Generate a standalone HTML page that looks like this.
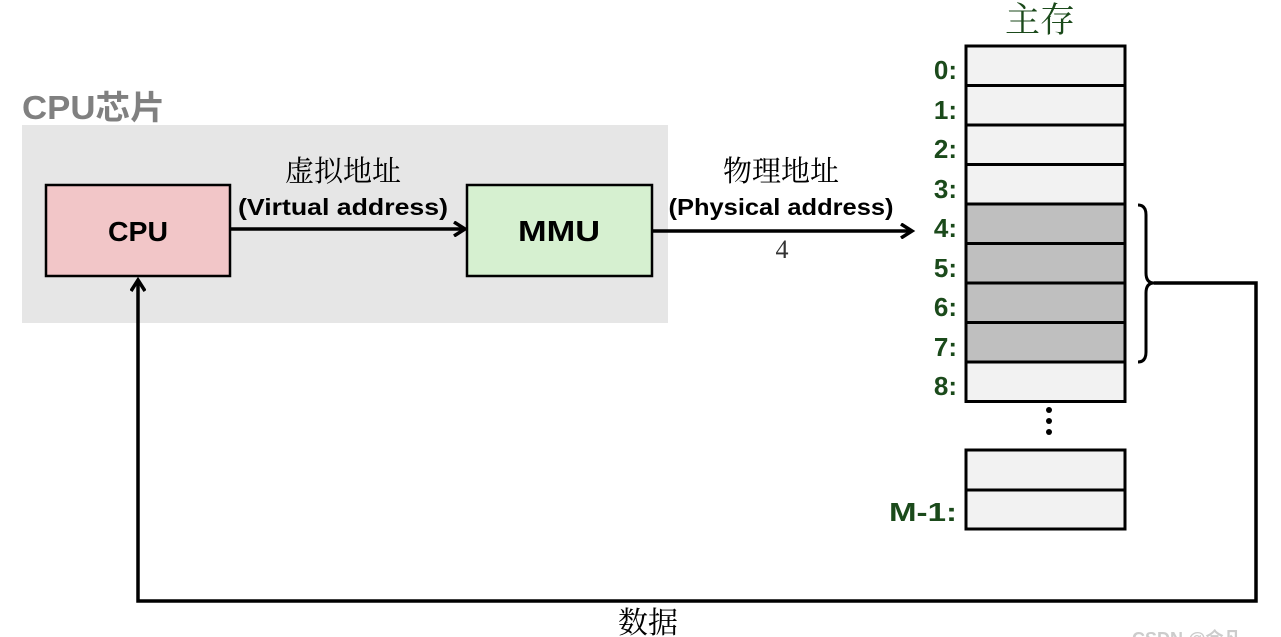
<!DOCTYPE html>
<html><head><meta charset="utf-8"><style>
html,body{margin:0;padding:0;background:#fff;}
svg{display:block;}
.b{font-family:"Liberation Sans","Noto Sans CJK SC",sans-serif;font-weight:bold;}
.s{font-family:"Liberation Serif","Noto Serif CJK SC",serif;}
.g{fill:#1b4a1b;font-size:26px;}
</style></head><body>
<svg width="1281" height="637" viewBox="0 0 1281 637" xmlns="http://www.w3.org/2000/svg">
<defs><marker id="a" markerWidth="16" markerHeight="16" refX="12" refY="8" orient="auto" markerUnits="userSpaceOnUse"><path d="M1,1 L12,8 L1,15" fill="none" stroke="#000" stroke-width="3.5"/></marker></defs>
<text x="22" y="119" class="b" font-size="33" fill="#808080" textLength="143" lengthAdjust="spacingAndGlyphs">CPU芯片</text>
<rect x="22" y="125" width="646" height="198" fill="#e6e6e6"/>
<rect x="46" y="185" width="184" height="91" fill="#f2c6c8" stroke="#000" stroke-width="2.5"/>
<text x="138" y="241" class="b" font-size="28" text-anchor="middle" textLength="60" lengthAdjust="spacingAndGlyphs">CPU</text>
<rect x="467" y="185" width="185" height="91" fill="#d6f0d0" stroke="#000" stroke-width="2.5"/>
<text x="559" y="241" class="b" font-size="29" text-anchor="middle" textLength="82" lengthAdjust="spacingAndGlyphs">MMU</text>
<line x1="230" y1="229" x2="465" y2="229" stroke="#000" stroke-width="3.5" marker-end="url(#a)"/>
<line x1="652" y1="231" x2="912" y2="231" stroke="#000" stroke-width="3.5" marker-end="url(#a)"/>
<text x="343" y="181" class="s" font-size="29" text-anchor="middle">虚拟地址</text>
<text x="343" y="215" class="b" font-size="23" text-anchor="middle" textLength="210" lengthAdjust="spacingAndGlyphs">(Virtual address)</text>
<text x="781" y="181" class="s" font-size="29" text-anchor="middle">物理地址</text>
<text x="781" y="215" class="b" font-size="23" text-anchor="middle" textLength="225" lengthAdjust="spacingAndGlyphs">(Physical address)</text>
<text x="782" y="258" class="s" font-size="26" fill="#333" text-anchor="middle">4</text>
<text x="1040" y="32" class="s" font-size="35" fill="#1b4a1b" text-anchor="middle">主存</text>
<g stroke="#000" stroke-width="3">
<rect x="966" y="46" width="159" height="39.5" fill="#f2f2f2"/>
<rect x="966" y="85.5" width="159" height="39.5" fill="#f2f2f2"/>
<rect x="966" y="125" width="159" height="39.5" fill="#f2f2f2"/>
<rect x="966" y="164.5" width="159" height="39.5" fill="#f2f2f2"/>
<rect x="966" y="204" width="159" height="39.5" fill="#bfbfbf"/>
<rect x="966" y="243.5" width="159" height="39.5" fill="#bfbfbf"/>
<rect x="966" y="283" width="159" height="39.5" fill="#bfbfbf"/>
<rect x="966" y="322.5" width="159" height="39.5" fill="#bfbfbf"/>
<rect x="966" y="362" width="159" height="39.5" fill="#f2f2f2"/>
<rect x="966" y="450" width="159" height="40" fill="#f2f2f2"/>
<rect x="966" y="490" width="159" height="39" fill="#f2f2f2"/>
</g>
<g class="b g" text-anchor="end">
<text x="957" y="79">0:</text><text x="957" y="119">1:</text><text x="957" y="158">2:</text>
<text x="957" y="198">3:</text><text x="957" y="237">4:</text><text x="957" y="277">5:</text>
<text x="957" y="316">6:</text><text x="957" y="356">7:</text><text x="957" y="395">8:</text>
<text x="957" y="521" textLength="68" lengthAdjust="spacingAndGlyphs">M-1:</text>
</g>
<circle cx="1049" cy="410" r="3"/><circle cx="1049" cy="421" r="3"/><circle cx="1049" cy="432" r="3"/>
<path d="M1138,205 Q1146,205 1146,215 L1146,273 Q1146,283 1154,283 Q1146,283 1146,293 L1146,352 Q1146,362 1138,362" fill="none" stroke="#000" stroke-width="3"/>
<polyline points="1154,283 1256,283 1256,601 138,601 138,280" fill="none" stroke="#000" stroke-width="3.5" marker-end="url(#a)"/>
<text x="648" y="633" class="s" font-size="30" text-anchor="middle">数据</text>
<text x="1132" y="645" class="b" font-size="18" fill="#ccc" font-weight="normal">CSDN @佘凡</text>
</svg>
</body></html>
